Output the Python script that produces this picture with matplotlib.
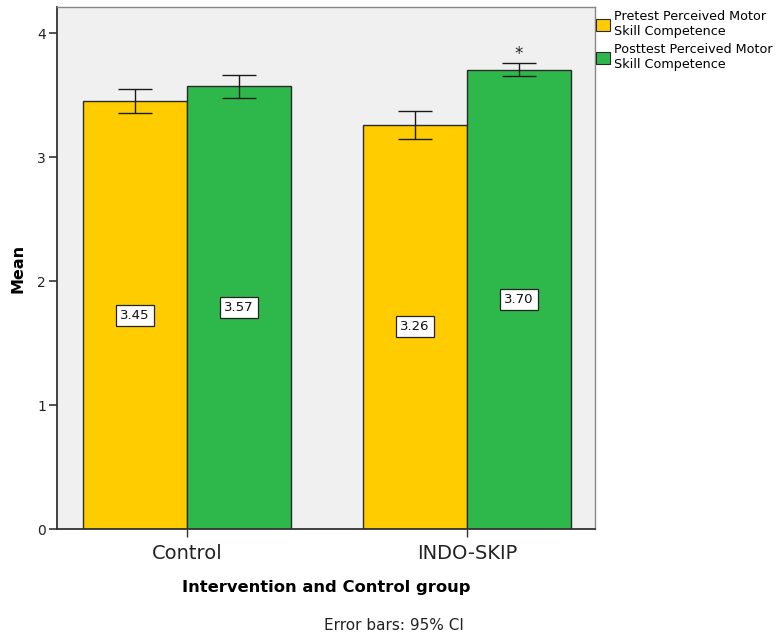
import numpy as np
import matplotlib
matplotlib.use("Agg")
import matplotlib.pyplot as plt
from matplotlib.patches import Patch

groups = ["Control", "INDO-SKIP"]
series_names = ["Pretest Perceived Motor\nSkill Competence",
                "Posttest Perceived Motor\nSkill Competence"]
pre_means = [3.45, 3.26]
post_means = [3.57, 3.70]
pre_ci_low = [3.355, 3.145]
pre_ci_high = [3.548, 3.37]
post_ci_low = [3.48, 3.65]
post_ci_high = [3.66, 3.76]
pre_labels = ["3.45", "3.26"]
post_labels = ["3.57", "3.70"]

colors = ["#FFCC00", "#2EB84B"]
edge = "#2a2a2a"

fig = plt.figure(figsize=(7.8, 6.36), dpi=100)
ax = fig.add_axes([0.0731, 0.1682, 0.6897, 0.8208])
ax.set_facecolor("#F0F0F0")

x = np.arange(len(groups))
w = 0.371

series = [
    (pre_means, pre_ci_low, pre_ci_high, pre_labels, -w / 2, colors[0]),
    (post_means, post_ci_low, post_ci_high, post_labels, w / 2, colors[1]),
]
for means, lo, hi, labels, off, col in series:
    means = np.array(means)
    lo = np.array(lo)
    hi = np.array(hi)
    ax.bar(x + off, means, width=w, color=col, edgecolor=edge, linewidth=1.0, zorder=2)
    ax.errorbar(x + off, means, yerr=[means - lo, hi - means], fmt="none",
                ecolor="#1a1a1a", elinewidth=1.0, capsize=12.5, capthick=1.0, zorder=3)
    for xi, m, lab in zip(x + off, means, labels):
        ax.text(xi, m / 2, lab, ha="center", va="center", fontsize=9.5, color="#111111",
                bbox=dict(boxstyle="square,pad=0.3", facecolor="white",
                          edgecolor="#222222", linewidth=0.9), zorder=4)

# significance marker above INDO-SKIP posttest
ax.text(x[1] + w / 2, post_ci_high[1] + 0.07, "*", ha="center", va="center",
        fontsize=12, color="#222222")

ax.set_xlim(-0.464, 1.457)
ax.set_ylim(0, 4.21)
ax.set_yticks([0, 1, 2, 3, 4])
ax.set_yticklabels(["0", "1", "2", "3", "4"], fontsize=10, color="#222222")
ax.set_xticks(x)
ax.set_xticklabels(groups, fontsize=14, color="#222222")
ax.tick_params(axis="y", length=6, width=1.2, color="#333333", pad=2)
ax.tick_params(axis="x", length=6, width=1.0, color="#333333", pad=5)

for s in ["left", "bottom"]:
    ax.spines[s].set_color("#333333")
    ax.spines[s].set_linewidth(1.3)
for s in ["top", "right"]:
    ax.spines[s].set_color("#888888")
    ax.spines[s].set_linewidth(1.0)

ax.set_ylabel("Mean", fontsize=11.5, fontweight="bold", labelpad=8)
ax.set_xlabel("Intervention and Control group", fontsize=11.8, fontweight="bold",
              labelpad=12)

handles = [Patch(facecolor=c, edgecolor=edge, linewidth=0.8) for c in colors]
fig.legend(handles, series_names, loc="upper left", bbox_to_anchor=(0.762, 0.986),
           frameon=False, fontsize=9.2, handlelength=1.1, handleheight=1.1,
           handletextpad=0.3, labelspacing=0.4, borderaxespad=0, borderpad=0.1)

fig.text(0.505, 0.004, "Error bars: 95% CI", ha="center", va="bottom", fontsize=11,
         color="#222222")

fig.savefig("out.png", dpi=100, facecolor="white")
